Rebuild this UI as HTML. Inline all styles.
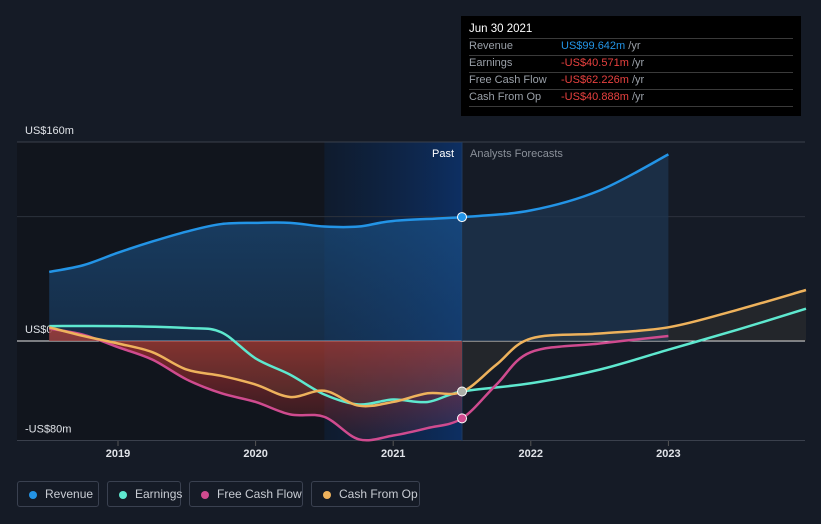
<!DOCTYPE html>
<html><head><meta charset="utf-8"><style>
body{margin:0;background:#151b26;font-family:"Liberation Sans",sans-serif;width:821px;height:524px;overflow:hidden;position:relative}
.lg{position:absolute;top:481px;height:26px;border:1px solid #3a4150;border-radius:3px;color:#c8ccd3;font-size:12px;line-height:24px;box-sizing:border-box;padding-left:27px;white-space:nowrap}
.lg i{position:absolute;left:11px;top:9px;width:8px;height:8px;border-radius:50%}
.tt{position:absolute;left:461px;top:16px;width:340px;height:100px;background:#000;color:#9aa0a8;font-size:11px}
.tt div{position:absolute;left:8px;width:324px;height:17px;border-bottom:1px solid #3a3a3a;line-height:17px}
.tt span{position:absolute;left:92px}
</style></head><body>
<svg id="c" width="821" height="524" style="position:absolute;left:0;top:0"></svg>
<div class="tt">
<div style="top:5px;color:#fff;font-size:11.5px">Jun 30 2021</div>
<div style="top:22px">Revenue<span style="color:#2394e6">US$99.642m <b style="font-weight:normal;color:#9aa0a8">/yr</b></span></div>
<div style="top:39px">Earnings<span style="color:#e8413f">-US$40.571m <b style="font-weight:normal;color:#9aa0a8">/yr</b></span></div>
<div style="top:56px">Free Cash Flow<span style="color:#e8413f">-US$62.226m <b style="font-weight:normal;color:#9aa0a8">/yr</b></span></div>
<div style="top:73px">Cash From Op<span style="color:#e8413f">-US$40.888m <b style="font-weight:normal;color:#9aa0a8">/yr</b></span></div>
</div>
<div class="lg" style="left:17px;width:82px"><i style="background:#2394e6"></i>Revenue</div>
<div class="lg" style="left:107px;width:74px"><i style="background:#5ee8cf"></i>Earnings</div>
<div class="lg" style="left:189px;width:114px"><i style="background:#cf4b8f"></i>Free Cash Flow</div>
<div class="lg" style="left:311px;width:109px"><i style="background:#eeb25c"></i>Cash From Op</div>
<script>
const revT=[2018.5,2018.75,2019,2019.25,2019.5,2019.75,2020,2020.25,2020.5,2020.75,2021,2021.5,2022,2022.5,2023];
const revV=[55.5,61,71,80,88,94,95,95,92,92,96.5,99.6,105,121,150];
const earnT=[2018.5,2019,2019.5,2019.75,2020,2020.25,2020.5,2020.75,2021,2021.25,2021.5,2022,2022.5,2023,2023.5,2024];
const earnV=[12,12,10.5,7,-14,-27,-43,-51,-47,-49,-40.6,-34,-23,-7,9,26];
const fcfT=[2018.5,2018.75,2019,2019.25,2019.5,2019.75,2020,2020.25,2020.5,2020.75,2021,2021.25,2021.5,2021.75,2022,2022.5,2023];
const fcfV=[10,5,-5,-15,-31,-42,-49,-59,-61,-79,-76,-70,-62.2,-35,-9,-2,4];
const cfoT=[2018.5,2018.75,2019,2019.25,2019.5,2019.75,2020,2020.25,2020.5,2020.75,2021,2021.25,2021.5,2021.75,2022,2022.5,2023,2023.5,2024];
const cfoV=[11,4,-2,-9,-23,-28,-35,-45,-40,-52,-49,-42,-40.9,-19,2,6,11,25,41];
const yTicks=[160,0,-80];const yLabels=["US$160m","US$0","-US$80m"];
const xTicks=[2019,2020,2021,2022,2023];
const NOW=2021.5;
const X=t=>118+(t-2019)*137.6, Y=v=>341-v*1.244;
const s=document.getElementById('c'),NS='http://www.w3.org/2000/svg';
function el(n,a,p){const e=document.createElementNS(NS,n);for(const k in a)e.setAttribute(k,a[k]);(p||s).appendChild(e);return e}
s.innerHTML='<defs><clipPath id="past"><rect x="0" y="0" width="'+X(NOW)+'" height="524"/></clipPath><clipPath id="fut"><rect x="'+X(NOW)+'" y="0" width="821" height="524"/></clipPath><linearGradient id="rg" x1="0" y1="0" x2="0" y2="1"><stop offset="0" stop-color="#1c5a94" stop-opacity=".7"/><stop offset="1" stop-color="#1c4a7a" stop-opacity=".45"/></linearGradient><linearGradient id="ng" x1="0" y1="0" x2="0" y2="1"><stop offset="0" stop-color="#b83232" stop-opacity=".75"/><stop offset="1" stop-color="#b83232" stop-opacity=".1"/></linearGradient><linearGradient id="hg" x1="0" y1="0" x2="1" y2="0"><stop offset="0" stop-color="#0b2a55" stop-opacity=".3"/><stop offset="1" stop-color="#0b3a80" stop-opacity=".7"/></linearGradient></defs>';
let r=el('rect',{x:17,y:142,width:X(NOW)-17,height:299,fill:'#11151d'});
r=el('rect',{x:X(2020.5),y:142,width:X(NOW)-X(2020.5),height:299,fill:'url(#hg)'});
yTicks.forEach((v,i)=>{const g=el('line',{x1:17,x2:805,y1:Y(v),y2:Y(v),stroke:v===0?'#e8e8e8':'#3a404c','stroke-width':1});
const t=el('text',{x:25,y:Y(v)-8,fill:'#e0e3e8','font-size':11});t.textContent=yLabels[i];});
let g=el('line',{x1:17,x2:805,y1:Y(100),y2:Y(100),stroke:'#2c323d'});
xTicks.forEach(t=>{el('line',{x1:X(t),x2:X(t),y1:441,y2:446,stroke:'#555'});const e=el('text',{x:X(t),y:457,fill:'#e0e3e8','font-size':11,'font-weight':'bold','text-anchor':'middle'});e.textContent=t;});
el('line',{x1:X(NOW),x2:X(NOW),y1:142,y2:441,stroke:'#1d3a60'});
let e=el('text',{x:X(NOW)-8,y:157,fill:'#fff','font-size':11,'text-anchor':'end'});e.textContent='Past';
e=el('text',{x:X(NOW)+8,y:157,fill:'#8a9099','font-size':11});e.textContent='Analysts Forecasts';
function path(T,V){const p=T.map((t,i)=>[X(t),Y(V[i])]);let d='M'+p[0];for(let i=0;i<p.length-1;i++){const p0=p[i-1]||p[i],p1=p[i],p2=p[i+1],p3=p[i+2]||p2;d+=' C'+(p1[0]+(p2[0]-p0[0])/6)+','+(p1[1]+(p2[1]-p0[1])/6)+' '+(p2[0]-(p3[0]-p1[0])/6)+','+(p2[1]-(p3[1]-p1[1])/6)+' '+p2;}return d}
function area(d,T){return d+' L'+X(T[T.length-1])+','+Y(0)+' L'+X(T[0])+','+Y(0)+'Z'}
const rd=path(revT,revV);
e=el('path',{d:area(rd,revT),fill:'url(#rg)','clip-path':'url(#past)'});
e=el('path',{d:area(rd,revT),fill:'#1d3550','fill-opacity':.75,'clip-path':'url(#fut)'});
const fd=path(fcfT,fcfV);
e=el('path',{d:area(fd,fcfT),fill:'url(#ng)','clip-path':'url(#past)'});
const cd=path(cfoT,cfoV);
e=el('path',{d:area(cd,cfoT),fill:'#8a7a50','fill-opacity':.12});
[[rd,'#2394e6','revenue-line'],[path(earnT,earnV),'#5ee8cf','earnings-line'],[fd,'#cf4b8f','fcf-line'],[cd,'#eeb25c','cfo-line']].forEach(a=>{const l=el('path',{d:a[0],fill:'none',stroke:a[1],'stroke-width':2.5});});
[[revT,revV,'#2394e6'],[earnT,earnV,'#aab0a8'],[fcfT,fcfV,'#cf4b8f']].forEach(a=>{const i=a[0].indexOf(NOW);const c=el('circle',{cx:X(NOW),cy:Y(a[1][i]),r:4.5,fill:a[2],stroke:'#fff','stroke-width':1});});
</script>
</body></html>
